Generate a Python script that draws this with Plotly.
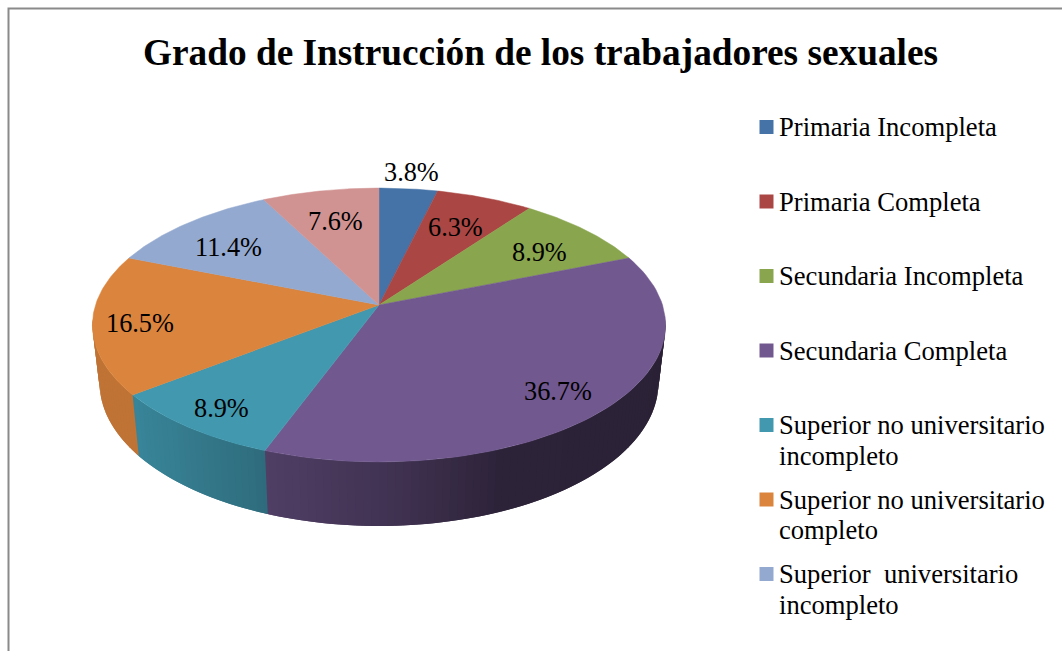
import numpy as np
import plotly.graph_objects as go

# ---- data ----
categories = [
    "Primaria Incompleta", "Primaria Completa", "Secundaria Incompleta",
    "Secundaria Completa", "Superior no universitario\nincompleto",
    "Superior no universitario\ncompleto",
    "Superior\u00a0 universitario\nincompleto",
    "Superior universitario completo",
]
values = [3.8, 6.3, 8.9, 36.7, 8.9, 16.5, 11.4, 7.6]
title = "Grado de Instrucción de los trabajadores sexuales"

# ---- styling ----
colors = ["#4572A7", "#AA4643", "#89A54E", "#71588F", "#4198AF", "#DB843D", "#93A9CF", "#D19392"]
label_pos = [(411, 172), (455, 227), (539, 252), (558, 391), (221, 408), (140, 323), (228, 247), (335, 221)]
SERIF = "Liberation Serif, Times New Roman, serif"
LABEL_SIZE = 26.3
LEGEND_SIZE = 26.6

# perspective pie geometry (pixel space)
CX, CY, RX, RY, K = 379.0, 305.0, 283.5, 134.0, 0.146
LOW_CY, LOW_RY, LOW_F = 362.0, 140.0, 0.975


def top_rim(theta):
    X, Y = np.sin(theta), np.cos(theta)
    w = 1 + K * Y
    return CX + RX * X / w, CY - RY * Y / w


def low_rim(theta):
    X, Y = np.sin(theta), np.cos(theta)
    w = 1 + K * Y
    return CX + LOW_F * RX * X / w, LOW_CY - LOW_RY * Y / w


def shade(hex_color, f):
    r, g, b = (int(hex_color[i:i + 2], 16) for i in (1, 3, 5))
    return f"rgb({r * f:.0f},{g * f:.0f},{b * f:.0f})"


fig = go.Figure()
edges = np.concatenate([[0], np.cumsum(values)]) / sum(values) * 2 * np.pi

# side wall, drawn in thin overlapping strips so it can carry the gradient
wall_start, wall_end = np.radians(96), np.radians(264)
strip_edges = np.unique(np.concatenate([
    np.linspace(wall_start, wall_end, 121),
    edges[(edges > wall_start) & (edges < wall_end)],
]))
for n in range(len(strip_edges) - 1):
    a, b = strip_edges[n], strip_edges[n + 1]
    mid = (a + b) / 2
    idx = int(np.searchsorted(edges, mid) - 1)
    # every strip runs on under the next one, so no seam shows between them
    c = strip_edges[min(n + 2, len(strip_edges) - 1)]
    t = np.array([a, b, c])
    xt, yt = top_rim(t)
    xl, yl = low_rim(t[::-1])
    f = np.interp(top_rim(mid)[0], [100, 135, 265, 400, 500, 660], [0.87, 0.87, 0.71, 0.56, 0.40, 0.38])
    col = shade(colors[idx], f)
    fig.add_trace(go.Scatter(
        x=np.concatenate([xt, xl]), y=np.concatenate([yt, yl]),
        mode="lines", fill="toself", fillcolor=col,
        line=dict(color=col, width=0), hoverinfo="skip", showlegend=False,
    ))

# top surface
for i, (cat, val) in enumerate(zip(categories, values)):
    t = np.linspace(edges[i], edges[i + 1], 80)
    x, y = top_rim(t)
    fig.add_trace(go.Scatter(
        x=np.concatenate([[CX], x, [CX]]), y=np.concatenate([[CY], y, [CY]]),
        mode="lines", fill="toself", fillcolor=colors[i],
        line=dict(color=colors[i], width=0.5), name=cat.replace("\n", " "),
        text=f"{val:.1f}%", hoverinfo="name+text", showlegend=False,
    ))

annotations = []
for val, (lx, ly) in zip(values, label_pos):
    annotations.append(dict(x=lx, y=ly, xref="x", yref="y", text=f"{val:.1f}%", showarrow=False,
                            font=dict(family=SERIF, size=LABEL_SIZE, color="#000"),
                            xanchor="center", yanchor="middle"))

# legend
LEG_SQ_X, LEG_TX, LEG_Y0, LEG_DY, LEG_LH = 766.5, 777, 127, 74.5, 30.5
shown = categories[:7]
fig.add_trace(go.Scatter(
    x=[LEG_SQ_X] * len(shown), y=[LEG_Y0 + LEG_DY * i for i in range(len(shown))],
    mode="markers", marker=dict(symbol="square", size=14, color=colors[:len(shown)], line=dict(width=0)),
    hoverinfo="skip", showlegend=False,
))
for i, cat in enumerate(shown):
    for j, part in enumerate(cat.split("\n")):
        annotations.append(dict(x=LEG_TX, y=LEG_Y0 + LEG_DY * i + LEG_LH * j, xref="x", yref="y",
                                text=part, showarrow=False, xanchor="left", yanchor="middle",
                                font=dict(family=SERIF, size=LEGEND_SIZE, color="#000")))

annotations.append(dict(x=540.5, y=52, xref="x", yref="y", text=f"<b>{title}</b>", showarrow=False,
                        xanchor="center", yanchor="middle",
                        font=dict(family=SERIF, size=37.3, color="#000")))

fig.update_layout(
    width=1062, height=651, margin=dict(l=0, r=0, t=0, b=0),
    paper_bgcolor="white", plot_bgcolor="white", showlegend=False,
    xaxis=dict(visible=False, range=[0, 1062], fixedrange=True),
    yaxis=dict(visible=False, range=[651, 0], fixedrange=True),
    annotations=annotations,
    shapes=[dict(type="path", path="M 8.5 651 L 8.5 8.5 L 1062 8.5", xref="x", yref="y",
                 line=dict(color="#8a8a8a", width=2))],
)
fig.write_html("out.html", post_script="document.body.style.margin='0';document.body.style.overflow='hidden';",
               config={"displayModeBar": False})
